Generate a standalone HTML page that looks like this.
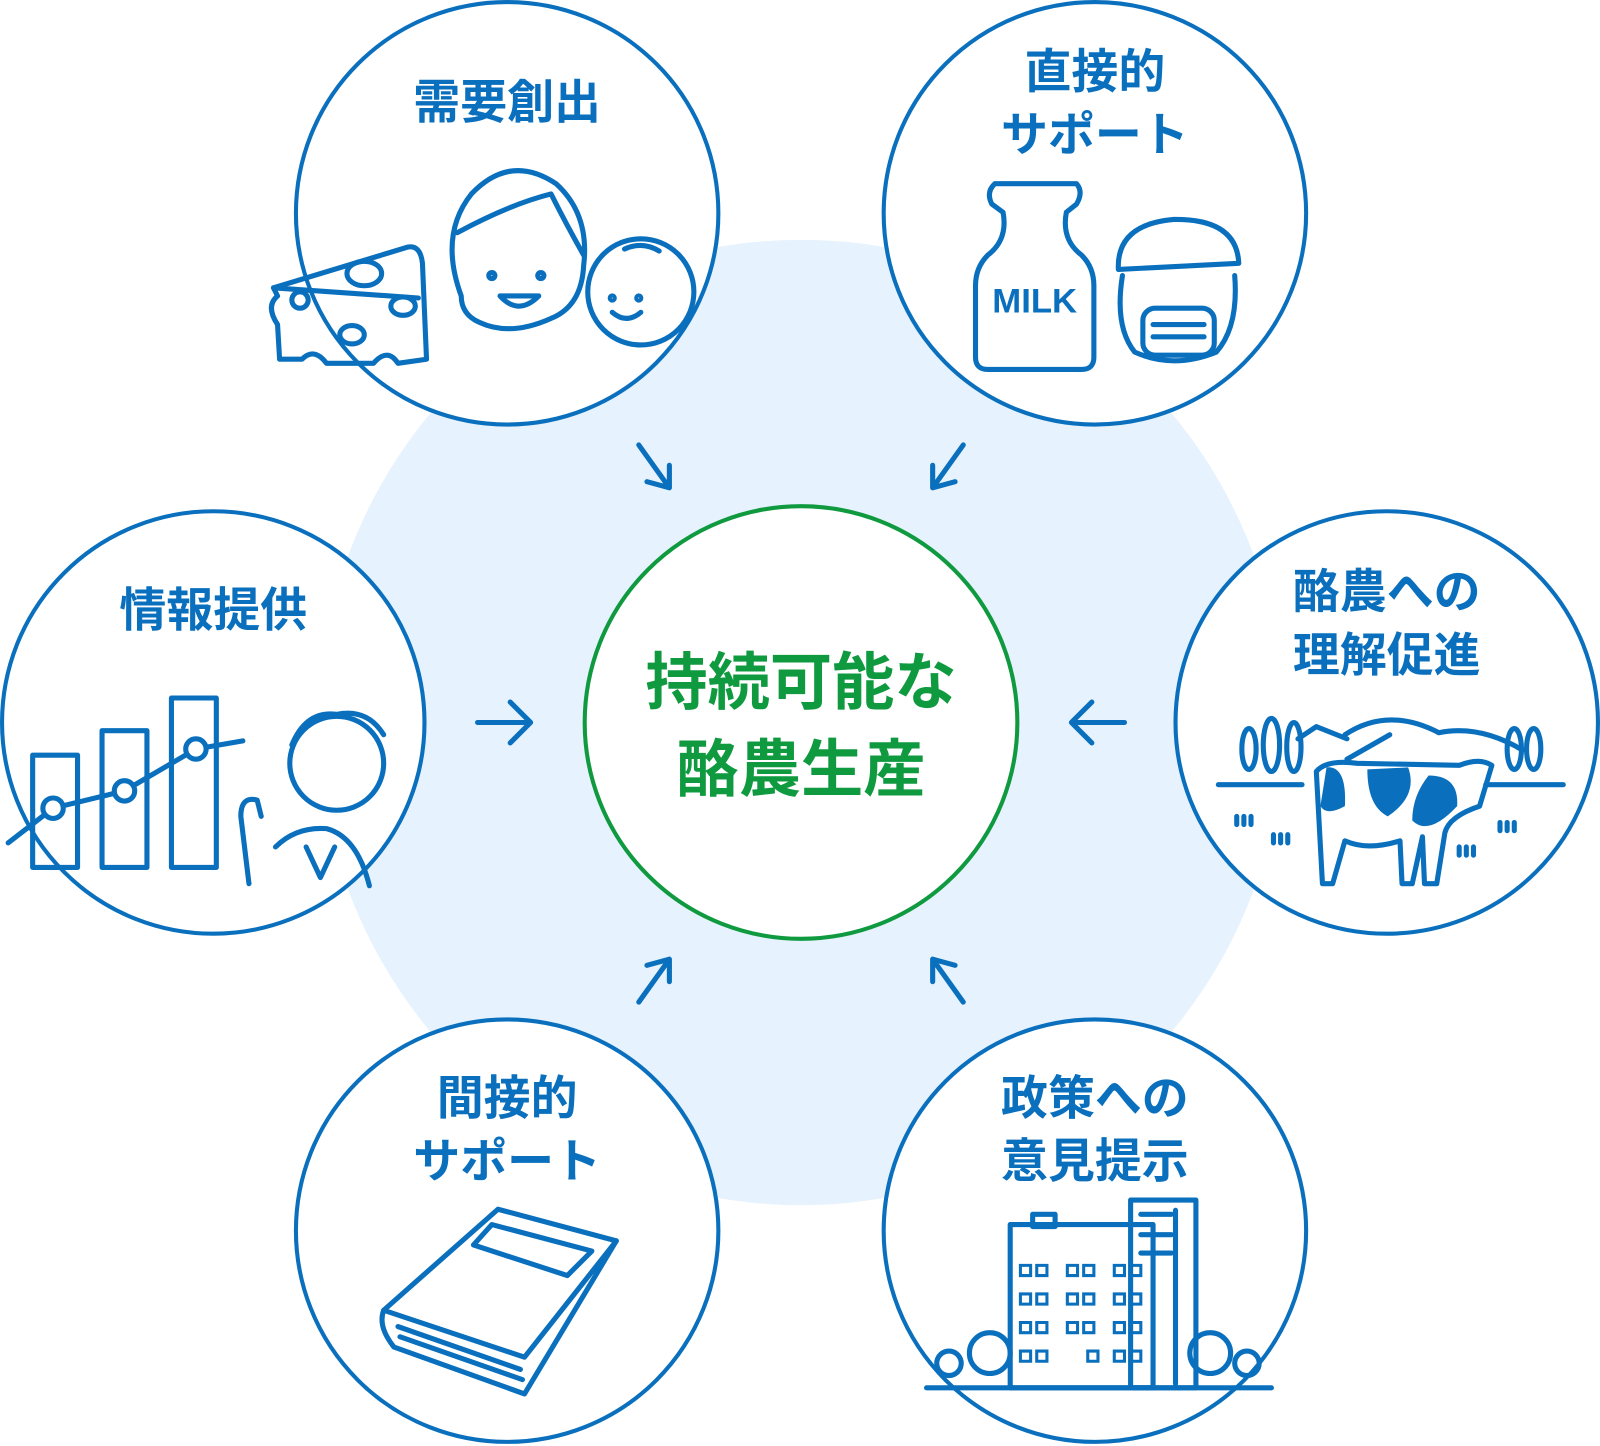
<!DOCTYPE html>
<html><head><meta charset="utf-8"><style>
html,body{margin:0;padding:0;background:#fff;}
svg{display:block;}
text{font-family:"Liberation Sans","Noto Sans CJK JP",sans-serif;font-weight:bold;}
</style></head><body>
<svg width="1600" height="1446" viewBox="0 0 1568 1417" xmlns="http://www.w3.org/2000/svg">
<circle cx="785" cy="708" r="473" fill="#e6f2fd"/>
<g fill="#fff" stroke="#0a70be" stroke-width="4">
<circle cx="497" cy="209" r="207"/>
<circle cx="1073" cy="209" r="207"/>
<circle cx="209" cy="708" r="207"/>
<circle cx="1359" cy="708" r="207"/>
<circle cx="497" cy="1206" r="207"/>
<circle cx="1073" cy="1206" r="207"/>
</g>
<circle cx="785" cy="708" r="212" fill="#fff" stroke="#109a40" stroke-width="4"/>
<g fill="#109a40" font-size="61" text-anchor="middle">
<text x="785" y="690">持続可能な</text>
<text x="785" y="775">酪農生産</text>
</g>
<g fill="#0a70be" font-size="46" text-anchor="middle">
<text x="497" y="116">需要創出</text>
<text x="1073" y="86">直接的</text>
<text x="1073" y="148">サポート</text>
<text x="209" y="614">情報提供</text>
<text x="1359" y="596">酪農への</text>
<text x="1359" y="658">理解促進</text>
<text x="497" y="1092">間接的</text>
<text x="497" y="1154">サポート</text>
<text x="1073" y="1092">政策への</text>
<text x="1073" y="1154">意見提示</text>
</g>
<g fill="none" stroke="#0a70be" stroke-width="5" stroke-linecap="round" stroke-linejoin="round">
<path d="M626 436 L656 478 M656 478 L656 456 M656 478 L634 472"/>
<path d="M944 436 L914 478 M914 478 L914 456 M914 478 L936 472"/>
<path d="M468 708 L520 708 M500 688 L520 708 L500 728"/>
<path d="M1102 708 L1050 708 M1070 688 L1050 708 L1070 728"/>
<path d="M626 982 L656 940 M656 940 L656 962 M656 940 L634 946"/>
<path d="M944 982 L914 940 M914 940 L914 962 M914 940 L936 946"/>
</g>
<g fill="none" stroke="#0a70be" stroke-width="5" stroke-linecap="round" stroke-linejoin="round">
<path d="M268 282 L400 242 Q412 240 414 258 L418 352 L390 356 Q380 340 366 356 L320 356 Q308 340 296 352 L274 352 L272 318 Q260 300 272 290 Z"/>
<path d="M268 282 L410 292"/>
<ellipse cx="357" cy="268" rx="17" ry="12"/><ellipse cx="395" cy="300" rx="12" ry="9"/><ellipse cx="345" cy="328" rx="12" ry="9"/><circle cx="294" cy="294" r="8"/>
<path d="M452 290 Q430 230 462 190 Q500 150 545 180 Q578 210 572 260 Q570 300 540 312 Q500 330 470 316 Q452 308 452 290 Z"/>
<path d="M448 228 Q500 200 540 190 Q555 220 572 250"/>
<path d="M490 290 Q508 310 528 290 Z"/>
<circle cx="482" cy="270" r="3"/><circle cx="530" cy="270" r="3"/>
<circle cx="628" cy="286" r="52"/>
<circle cx="600" cy="292" r="2"/><circle cx="626" cy="292" r="2"/>
<path d="M600 306 Q614 318 628 306"/>
<path d="M612 244 Q630 236 646 246"/>
<path d="M975 180 L1055 180 Q1062 188 1055 200 L1045 208 Q1040 235 1060 250 Q1072 262 1072 280 L1072 350 Q1072 362 1060 362 L968 362 Q956 362 956 350 L956 280 Q956 262 968 250 Q988 235 983 208 L972 200 Q966 188 975 180 Z"/>
<path d="M1096 264 Q1094 220 1150 215 Q1212 214 1214 258 Z"/>
<path d="M1100 270 Q1092 320 1112 345 Q1150 362 1192 345 Q1214 320 1210 270"/>
<rect x="1120" y="302" width="70" height="46" rx="12"/>
<path d="M1130 318 L1180 318 M1130 330 L1180 330"/>
<rect x="32" y="740" width="44" height="110"/>
<rect x="100" y="716" width="44" height="134"/>
<rect x="168" y="684" width="44" height="166"/>
<path d="M8 826 L52 792 L122 775 L192 734 L238 726"/>
<circle cx="52" cy="792" r="10" fill="#fff"/><circle cx="122" cy="775" r="10" fill="#fff"/><circle cx="192" cy="734" r="10" fill="#fff"/>
<circle cx="330" cy="748" r="46"/>
<path d="M286 730 Q300 696 330 700 Q360 694 376 720"/>
<path d="M244 866 L236 800 Q236 780 252 784 L256 800"/>
<path d="M270 830 Q290 810 320 812 Q350 820 362 868"/>
<path d="M300 830 L314 860 L328 830"/>
<path d="M1194 769 L1276 769 M1456 769 L1532 769"/>
<ellipse cx="1224" cy="734" rx="7" ry="20"/><ellipse cx="1246" cy="730" rx="8" ry="26"/><ellipse cx="1268" cy="732" rx="7" ry="24"/>
<ellipse cx="1484" cy="734" rx="7" ry="20"/><ellipse cx="1503" cy="734" rx="7" ry="20"/>
<path d="M1272 724 L1290 712 L1320 724 M1318 720 Q1360 692 1410 718 Q1450 710 1492 735"/>
<path d="M1320 744 L1362 720"/>
<path d="M1290 756 Q1300 744 1330 748 L1430 750 Q1450 742 1462 750 L1450 790 Q1420 800 1416 816 L1408 866 L1396 866 L1394 820 L1384 866 L1374 866 L1372 824 Q1340 834 1318 824 L1306 866 L1296 866 Z"/>
<path d="M1212 800 v8 M1219 800 v8 M1226 800 v8 M1248 818 v8 M1255 818 v8 M1262 818 v8 M1430 830 v8 M1437 830 v8 M1444 830 v8 M1470 806 v8 M1477 806 v8 M1484 806 v8"/>
<path d="M376 1284 L488 1185 L604 1216 L514 1366 L386 1320 Q370 1300 376 1284 Z"/>
<path d="M376 1284 L514 1330 L604 1216"/>
<path d="M464 1220 L482 1200 L580 1226 L556 1250 Z"/>
<path d="M390 1300 L510 1342 M392 1310 L512 1352"/>
<path d="M908 1360 L1246 1360"/>
<rect x="990" y="1200" width="140" height="160"/>
<rect x="1108" y="1176" width="64" height="184"/>
<rect x="1012" y="1190" width="22" height="12"/>
<path d="M1118 1190 h30 M1118 1210 h30 M1118 1228 h30 M1152 1186 v170"/>
<circle cx="970" cy="1326" r="20"/><circle cx="1186" cy="1326" r="20"/>
<circle cx="930" cy="1336" r="12"/><circle cx="1222" cy="1336" r="12"/>
</g>
<g fill="none" stroke="#0a70be" stroke-width="3">
<path d="M1000 1240 h10 v10 h-10 z M1016 1240 h10 v10 h-10 z M1046 1240 h10 v10 h-10 z M1062 1240 h10 v10 h-10 z M1092 1240 h10 v10 h-10 z M1108 1240 h10 v10 h-10 z"/>
<path d="M1000 1268 h10 v10 h-10 z M1016 1268 h10 v10 h-10 z M1046 1268 h10 v10 h-10 z M1062 1268 h10 v10 h-10 z M1092 1268 h10 v10 h-10 z M1108 1268 h10 v10 h-10 z"/>
<path d="M1000 1296 h10 v10 h-10 z M1016 1296 h10 v10 h-10 z M1046 1296 h10 v10 h-10 z M1062 1296 h10 v10 h-10 z M1092 1296 h10 v10 h-10 z M1108 1296 h10 v10 h-10 z"/>
<path d="M1000 1324 h10 v10 h-10 z M1016 1324 h10 v10 h-10 z M1066 1324 h10 v10 h-10 z M1092 1324 h10 v10 h-10 z M1108 1324 h10 v10 h-10 z"/>
</g>
<g fill="#0a70be">
<text x="1014" y="306" font-size="34" text-anchor="middle">MILK</text>
<path d="M1300 752 Q1320 750 1318 790 Q1300 800 1294 790 Z"/>
<path d="M1340 754 L1380 752 Q1390 780 1360 800 Q1340 790 1340 754 Z"/>
<path d="M1400 760 Q1430 760 1428 790 Q1400 820 1384 804 Q1384 780 1400 760 Z"/>
</g>
</svg>
</body></html>
